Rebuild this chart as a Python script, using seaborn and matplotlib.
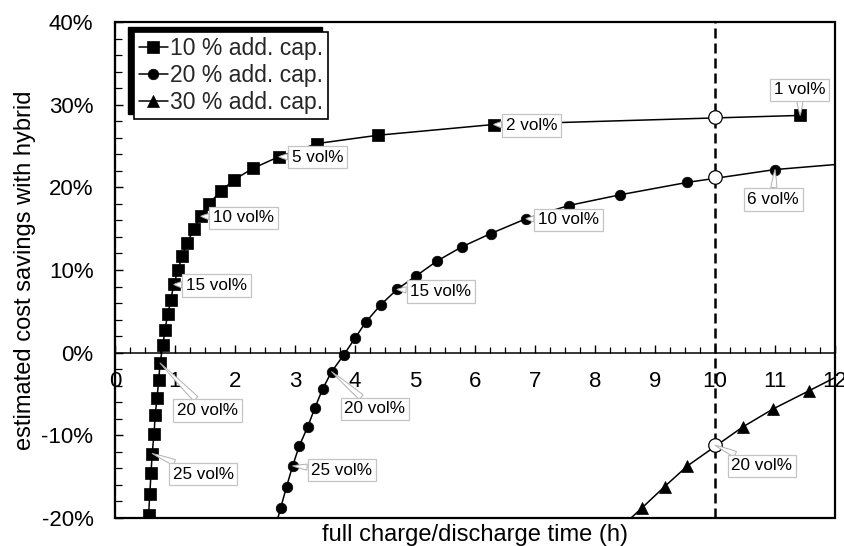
import matplotlib
matplotlib.use("Agg")
import matplotlib.pyplot as plt
import matplotlib.ticker as mticker
import matplotlib.transforms as mtransforms
from matplotlib.patches import Rectangle
import numpy as np
import pandas as pd
import seaborn as sns

# ---------------- data (x: full charge/discharge time in h, y: savings in %) ----------
sq_vol = list(range(1, 30))
sq_x = [11.42, 6.31, 4.38, 3.37, 2.73, 2.30, 1.98, 1.76, 1.56, 1.43, 1.32, 1.20, 1.12,
        1.05, 0.98, 0.93, 0.88, 0.83, 0.80, 0.75, 0.73, 0.70, 0.67, 0.65, 0.62, 0.60,
        0.58, 0.56, 0.55]
sq_y = [28.7, 27.6, 26.3, 25.3, 23.7, 22.3, 20.9, 19.5, 18.0, 16.5, 14.95, 13.3, 11.7,
        10.0, 8.25, 6.4, 4.65, 2.7, 0.9, -1.25, -3.3, -5.45, -7.6, -9.85, -12.2, -14.6,
        -17.1, -19.6, -22.0]

ci_vol = list(range(5, 29))
ci_x = [12.9, 11.0, 9.54, 8.42, 7.56, 6.85, 6.26, 5.78, 5.37, 5.02, 4.70, 4.43, 4.18,
        4.00, 3.81, 3.61, 3.46, 3.33, 3.21, 3.07, 2.96, 2.86, 2.76, 2.67]
ci_y = [23.3, 22.15, 20.6, 19.1, 17.8, 16.2, 14.4, 12.8, 11.1, 9.3, 7.65, 5.8, 3.7,
        1.75, -0.3, -2.3, -4.4, -6.7, -9.0, -11.3, -13.7, -16.2, -18.8, -21.2]

tr_vol = [16, 17, 18, 19, 21, 22, 23, 24]
tr_x = [12.3, 11.57, 10.97, 10.46, 9.54, 9.16, 8.78, 8.42]
tr_y = [-1.9, -4.6, -6.8, -9.0, -13.7, -16.2, -18.8, -21.2]

series_names = ["10 % add. cap.", "20 % add. cap.", "30 % add. cap."]

ref_time = 10.0
ref_y = [28.5, 21.2, -11.2]   # values of each curve at 10 h (open circles)

x_ticks = list(range(0, 13))
y_ticks = [-20, -10, 0, 10, 20, 30, 40]

# callouts: (series index, vol%, text) ; series 2 points to the 10 h marker
callouts = [
    (0, 1, "1 vol%"), (0, 2, "2 vol%"), (0, 5, "5 vol%"), (0, 10, "10 vol%"),
    (0, 15, "15 vol%"), (0, 20, "20 vol%"), (0, 25, "25 vol%"),
    (1, 6, "6 vol%"), (1, 10, "10 vol%"), (1, 15, "15 vol%"), (1, 20, "20 vol%"),
    (1, 25, "25 vol%"),
    (2, 20, "20 vol%"),
]
# label box centres (layout)
callout_pos = [
    (11.41, 31.8), (6.94, 27.5), (3.375, 23.65), (2.145, 16.3), (1.69, 8.1),
    (1.54, -7.0), (1.47, -14.7),
    (10.97, 18.55), (7.56, 16.05), (5.43, 7.4), (4.33, -6.8), (3.78, -14.2),
    (10.78, -13.7),
]

# ---------------- figure ----------------
sns.set_theme(style="white")
plt.rcParams["font.family"] = ["Liberation Sans", "DejaVu Sans"]

fig = plt.figure(figsize=(8.45, 5.46), dpi=100)
ax = fig.add_axes([115 / 845, 1 - 518 / 546, 720 / 845, 496 / 546])
ax.set_facecolor("white")

df_sq = pd.DataFrame({"x": sq_x, "y": sq_y})
df_ci = pd.DataFrame({"x": ci_x, "y": ci_y})
df_tr = pd.DataFrame({"x": tr_x, "y": tr_y})

common = dict(color="black", lw=1.1, sort=False, estimator=None, ax=ax,
              markeredgewidth=0.5, markeredgecolor="black", zorder=3)
sns.lineplot(data=df_sq, x="x", y="y", marker="s", markersize=8.7,
             label=series_names[0], **common)
sns.lineplot(data=df_ci, x="x", y="y", marker="o", markersize=7.6,
             label=series_names[1], **common)
sns.lineplot(data=df_tr, x="x", y="y", marker="^", markersize=8.4,
             label=series_names[2], **common)

ax.axvline(ref_time, color="black", lw=1.8, ls=(0, (4, 2)), zorder=2)
ax.scatter([ref_time] * len(ref_y), ref_y, s=95, facecolor="white",
           edgecolor="black", linewidth=0.9, zorder=4)

ax.set_xlim(0, 12)
ax.set_ylim(-20, 40)

# callouts
lookup = [dict(zip(sq_vol, zip(sq_x, sq_y))),
          dict(zip(ci_vol, zip(ci_x, ci_y)))]
for (s, v, txt), (tx, ty) in zip(callouts, callout_pos):
    if s < 2:
        px, py = lookup[s][v]
    else:
        px, py = ref_time, ref_y[2]
    ax.annotate(txt, xy=(px, py), xytext=(tx, ty), ha="center", va="center",
                fontsize=12.3, color="black", zorder=6,
                bbox=dict(boxstyle="square,pad=0.22", fc="white", ec="#c4c4c4", lw=0.9),
                arrowprops=dict(arrowstyle="wedge,tail_width=0.35,shrink_factor=0.6",
                                fc="white", ec="#b0b0b0", lw=0.7,
                                shrinkA=0, shrinkB=0))

# axes / ticks
for side in ["top", "right"]:
    ax.spines[side].set_visible(False)
ax.spines["bottom"].set_position(("data", 0))
ax.spines["bottom"].set_color("black")
ax.spines["bottom"].set_linewidth(1.1)
ax.spines["left"].set_color("black")
ax.spines["left"].set_linewidth(1.5)
ax.add_patch(Rectangle((0, 0), 1, 1, transform=ax.transAxes, fill=False,
                       ec="black", lw=1.6, clip_on=False, zorder=7))

ax.set_xticks(x_ticks)
ax.set_xticklabels([str(t) for t in x_ticks])
ax.xaxis.set_minor_locator(mticker.MultipleLocator(0.25))
ax.set_yticks(y_ticks)
ax.set_yticklabels([f"{t}%" for t in y_ticks])
ax.yaxis.set_minor_locator(mticker.MultipleLocator(2))

ax.tick_params(axis="x", which="both", direction="in", bottom=True, top=False,
               colors="black", labelsize=16, pad=13)
ax.tick_params(axis="x", which="major", length=6, width=1)
ax.tick_params(axis="x", which="minor", length=4, width=0.9)
ax.tick_params(axis="y", which="both", direction="in", left=True, right=False,
               colors="black", labelsize=16, pad=15.5)
ax.tick_params(axis="y", which="major", length=6, width=1)
ax.tick_params(axis="y", which="minor", length=5, width=0.9)
for lab in ax.get_xticklabels() + ax.get_yticklabels():
    lab.set_color("black")

ax.set_xlabel("full charge/discharge time (h)", fontsize=17, color="black")
ax.set_ylabel("estimated cost savings with hybrid", fontsize=17, color="black")
ax.xaxis.set_label_coords(0.5, -0.012)
ax.yaxis.set_label_coords(-0.11, 0.5)

leg = ax.legend(loc="upper left", bbox_to_anchor=(19 / 720, 1 - 10 / 496),
                borderaxespad=0, frameon=True, fancybox=False, edgecolor="black",
                framealpha=1, fontsize=16.5, handlelength=1.25, handletextpad=0.08,
                borderpad=0.22, labelspacing=0.18)
leg.get_frame().set_linewidth(1.2)
leg.set_zorder(9)

fig.canvas.draw()
bb = leg.get_window_extent()
ax.add_patch(Rectangle((bb.x0 - 6, bb.y0 + 5), bb.width, bb.height,
                       transform=mtransforms.IdentityTransform(), fc="black",
                       ec="black", clip_on=False, zorder=8))

fig.savefig("out.png", dpi=100)
